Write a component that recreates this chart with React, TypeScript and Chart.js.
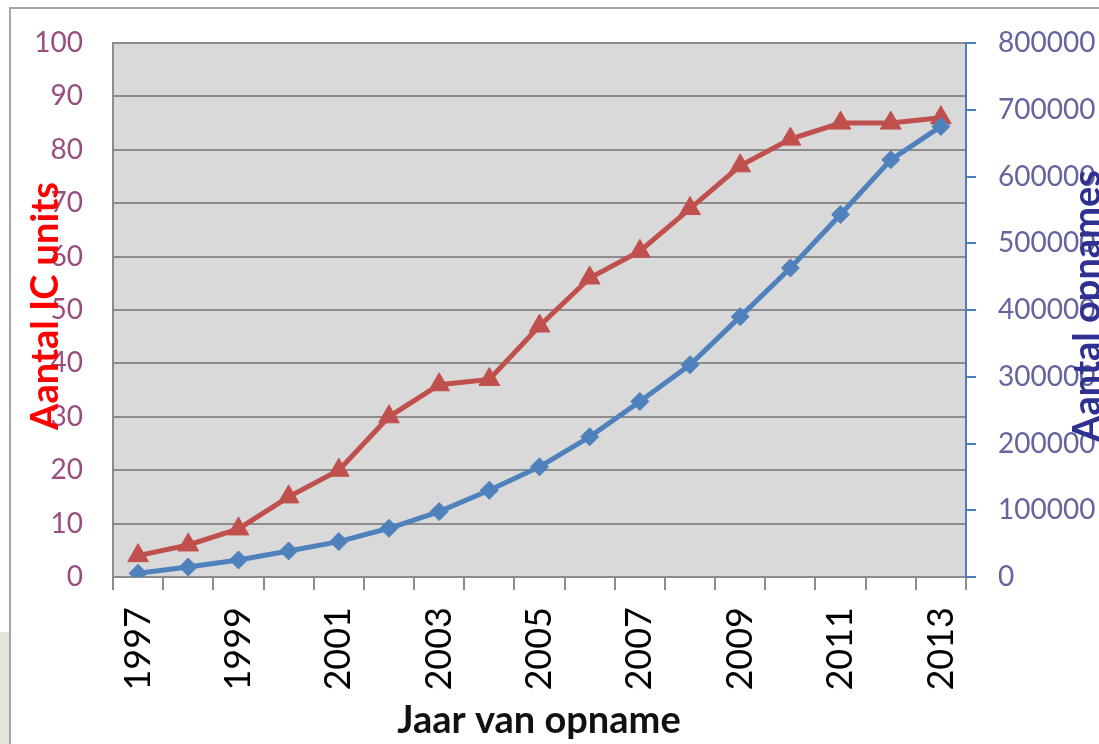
import React, { useEffect, useRef } from "react";
import { Chart, registerables } from "chart.js";

Chart.register(...registerables);

const years = ["1997","1998","1999","2000","2001","2002","2003","2004","2005","2006","2007","2008","2009","2010","2011","2012","2013"];
const icUnits = [4, 6, 9, 15, 20, 30, 36, 37, 47, 56, 61, 69, 77, 82, 85, 85, 86];
const opnames = [5500, 15000, 25500, 39000, 53000, 73000, 98000, 130000, 165000, 210000, 263000, 318000, 390000, 463000, 543000, 625000, 675000];

const xTitle = "Jaar van opname";
const leftTitle = "Aantal IC units";
const rightTitle = "Aantal opnames";

const W = 1099;
const H = 744;

const decorPlugin = {
  id: "decor",
  beforeDraw(chart: any) {
    const ctx = chart.ctx;
    const a = chart.chartArea;
    ctx.save();
    ctx.fillStyle = "#ffffff";
    ctx.fillRect(0, 0, W, H);
    ctx.fillStyle = "#e7e3dc";
    ctx.fillRect(0, 632, 10, H - 632);
    ctx.strokeStyle = "#a6a6a6";
    ctx.lineWidth = 2;
    ctx.beginPath();
    ctx.moveTo(10, H);
    ctx.lineTo(10, 8);
    ctx.lineTo(W, 8);
    ctx.stroke();
    ctx.fillStyle = "#d9d9d9";
    ctx.fillRect(a.left, a.top, a.right - a.left, a.bottom - a.top);
    ctx.restore();
  },
  afterDraw(chart: any) {
    const ctx = chart.ctx;
    ctx.save();
    ctx.textAlign = "center";
    ctx.textBaseline = "middle";
    ctx.fillStyle = "#111111";
    ctx.font = "bold 38px Lato";
    ctx.fillText(xTitle, 539, 721, 300);
    ctx.save();
    ctx.translate(46, 306);
    ctx.rotate(-Math.PI / 2);
    ctx.fillStyle = "#ff0000";
    ctx.font = "bold 38px Lato";
    ctx.fillText(leftTitle, 0, 0, 254);
    ctx.restore();
    ctx.save();
    ctx.translate(1088, 306);
    ctx.rotate(-Math.PI / 2);
    ctx.fillStyle = "#2e3192";
    ctx.font = "bold 38px Lato";
    ctx.fillText(rightTitle, 0, 0, 288);
    ctx.restore();
    ctx.restore();
  },
};

export default function App() {
  const ref = useRef<HTMLCanvasElement | null>(null);

  useEffect(() => {
    if (!ref.current) return;
    const chart = new Chart(ref.current, {
      type: "line",
      data: {
        labels: years,
        datasets: [
          {
            label: rightTitle,
            data: opnames,
            yAxisID: "y1",
            borderColor: "#4f81bd",
            backgroundColor: "#4f81bd",
            borderWidth: 5,
            pointStyle: "rectRot",
            pointRadius: 9,
            pointBorderWidth: 1,
            pointBackgroundColor: "#4f81bd",
            pointBorderColor: "#4f81bd",
            tension: 0,
          },
          {
            label: leftTitle,
            data: icUnits,
            yAxisID: "y",
            borderColor: "#c0504d",
            backgroundColor: "#c0504d",
            borderWidth: 5,
            pointStyle: "triangle",
            pointRadius: 12,
            pointBorderWidth: 1,
            pointBackgroundColor: "#c0504d",
            pointBorderColor: "#c0504d",
            tension: 0,
          },
        ],
      },
      options: {
        responsive: false,
        animation: false,
        devicePixelRatio: 1,
        layout: { padding: { top: 43, left: 0, right: 0, bottom: 0 } },
        plugins: {
          legend: { display: false },
          tooltip: { enabled: false },
          title: { display: false },
        },
        scales: {
          x: {
            type: "category",
            offset: true,
            grid: {
              offset: true,
              drawOnChartArea: false,
              drawTicks: true,
              tickLength: 13,
              color: "#8c8c8c",
              lineWidth: 2,
            },
            border: { display: true, color: "#8c8c8c", width: 2 },
            ticks: {
              autoSkip: false,
              maxRotation: 90,
              minRotation: 90,
              padding: 17,
              color: "#000000",
              font: { family: "Lato", size: 36 },
              callback: (_v: any, i: number) => (i % 2 === 0 ? years[i] : ""),
            },
            afterFit: (s: any) => {
              s.height = H - 577;
              s.paddingLeft = 0;
              s.paddingRight = 0;
            },
          },
          y: {
            position: "left",
            min: 0,
            max: 100,
            grid: {
              drawOnChartArea: true,
              drawTicks: false,
              color: "#8c8c8c",
              lineWidth: 2,
            },
            border: { display: true, color: "#8c8c8c", width: 2 },
            ticks: {
              stepSize: 10,
              padding: 30,
              color: "#9a4d7f",
              font: { family: "Lato", size: 28 },
            },
            afterFit: (s: any) => {
              s.width = 113;
              s.paddingTop = 0;
              s.paddingBottom = 0;
            },
          },
          y1: {
            position: "right",
            min: 0,
            max: 800000,
            grid: {
              drawOnChartArea: false,
              drawTicks: true,
              tickLength: 10,
              color: "#4a7ebb",
              lineWidth: 2,
            },
            border: { display: true, color: "#4a7ebb", width: 2 },
            ticks: {
              stepSize: 100000,
              padding: 22,
              color: "#64649e",
              font: { family: "Lato", size: 28 },
              callback: (v: any) => String(v),
            },
            afterFit: (s: any) => {
              s.width = W - 966;
              s.paddingTop = 0;
              s.paddingBottom = 0;
            },
          },
        },
      },
      plugins: [decorPlugin],
    });
    return () => chart.destroy();
  }, []);

  return (
    <div style={{ position: "absolute", left: 0, top: 0, width: W, height: H }}>
      <canvas ref={ref} width={W} height={H} style={{ width: W, height: H, display: "block" }} />
    </div>
  );
}
